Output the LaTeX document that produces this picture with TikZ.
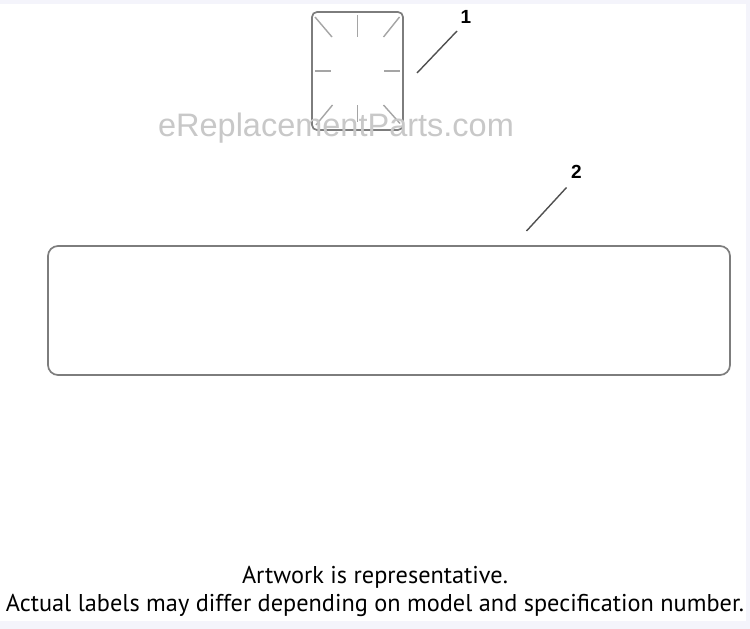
\documentclass[tikz,border=0pt]{standalone}
\usepackage{fontspec}
\setmainfont{Liberation Sans}
\newfontfamily\capfont{PT Sans}
\definecolor{bgl}{RGB}{244,244,251}
\definecolor{outl}{RGB}{125,125,125}
\definecolor{tickc}{RGB}{165,165,165}
\definecolor{leadc}{RGB}{80,80,80}
\definecolor{wmc}{RGB}{200,200,200}
\begin{document}
\begin{tikzpicture}[x=1pt,y=-1pt,
  decal/.style={draw=outl, line width=1.7pt, fill=none, inner sep=0pt},
  tickline/.style={draw=tickc, line width=1.4pt},
  leader/.style={draw=leadc, line width=1.4pt},
  num/.style={font=\fontsize{19}{19}\selectfont\bfseries, text=black, inner sep=0pt},
  wm/.style={font=\fontsize{32.5}{32.5}\selectfont, text=wmc, inner sep=0pt},
  captext/.style={font=\capfont\fontsize{24.3}{26}\selectfont, text=black, inner sep=0pt}]
\useasboundingbox (0,0) rectangle (750,629);
\fill[bgl] (0,0) rectangle (750,629);
\fill[white] (0,4) rectangle (746,621);
% part 1
\node[decal, rounded corners=5pt, minimum width=91pt, minimum height=118pt] (d1) at (357.5,71) {};
\draw[tickline] (357.7,15) -- (357.7,37);
\draw[tickline] (315,17) -- (332,37);
\draw[tickline] (399.5,17) -- (383.5,37);
\draw[tickline] (315,71) -- (331,71);
\draw[tickline] (384,71) -- (400,71);
\draw[tickline] (357.7,105) -- (357.7,122);
\draw[tickline] (332.5,105) -- (316,125);
\draw[tickline] (383.5,105) -- (400,123.5);
\node[num] (n1) at (466,17) {1};
\coordinate (l1s) at (457,31);
\coordinate (l1e) at (417,73);
\draw[leader] (l1s) -- (l1e);
% watermark
\node[wm] (wm) at (336,128) {eReplacementParts.com};
% part 2
\node[decal, rounded corners=10pt, minimum width=682pt, minimum height=129pt] (d2) at (389,310.5) {};
\node[num] (n2) at (576.5,172) {2};
\coordinate (l2s) at (566.5,187.5);
\coordinate (l2e) at (526.5,231);
\draw[leader] (l2s) -- (l2e);
% captions
\node[captext] (c1) at (375,577) {Artwork is representative.};
\node[captext] (c2) at (375,605) {Actual labels may differ depending on model and specification number.};
\end{tikzpicture}
\end{document}
